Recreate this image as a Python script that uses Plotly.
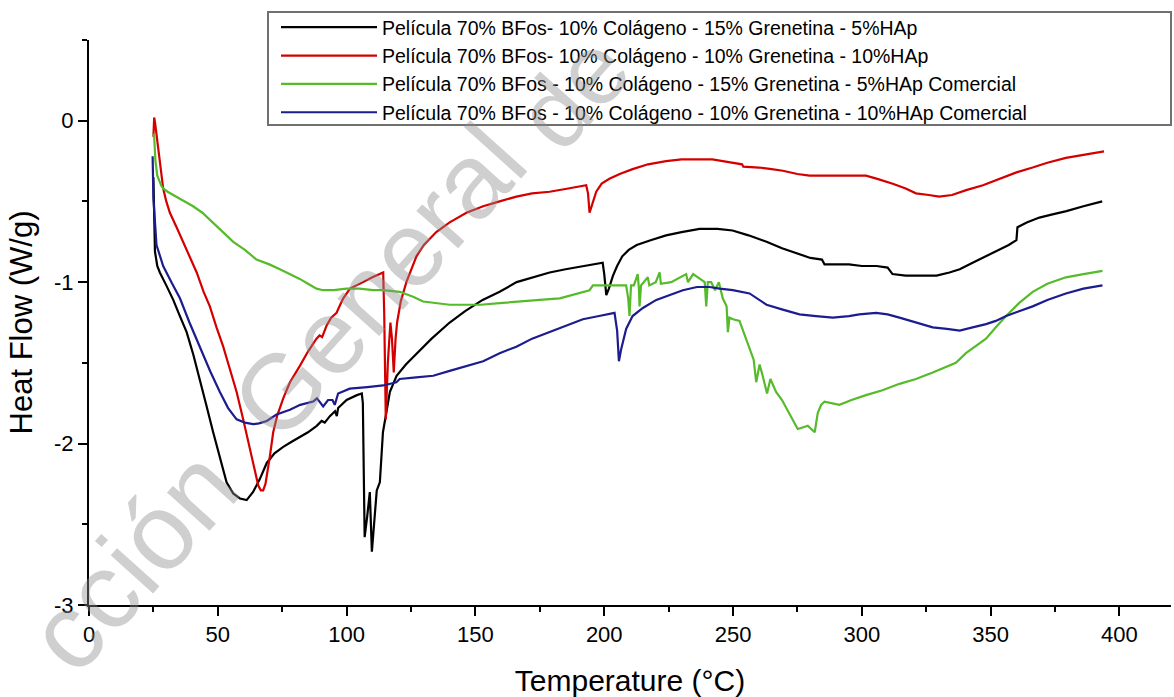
import plotly.graph_objects as go

# ---------------- data ----------------
names = [
    "Película 70% BFos- 10% Colágeno - 15% Grenetina - 5%HAp",
    "Película 70% BFos- 10% Colágeno - 10% Grenetina - 10%HAp",
    "Película 70% BFos - 10% Colágeno - 15% Grenetina - 5%HAp Comercial",
    "Película 70% BFos - 10% Colágeno - 10% Grenetina - 10%HAp Comercial",
]
colors = ["#000000", "#d40000", "#55bb2a", "#1c1c8f"]

t_black = [25.0, 25.3, 25.6, 26.5, 27.5, 30, 32.7, 35, 37.9, 40.5, 43, 45.5, 48.2, 51, 53.4, 56, 58.6, 61.2,
           63.7, 66.3, 69, 72, 75.4, 78.5, 81.8, 85, 88.4, 90.3, 91.5, 93.5, 95.5, 96.2, 96.7, 100, 104, 105.9,
           106.3, 107, 108, 109, 109.8, 110.8, 111.7, 112.9, 114.1, 116.8, 119.4, 123, 127.2, 133, 140, 146,
           152.8, 159.4, 166, 172, 178.8, 185, 191.6, 199.4, 200.0, 200.8, 201.8, 203.4, 205, 207, 209.5, 212.6,
           218, 224, 230, 237, 244, 249.8, 256, 263, 269, 275.8, 280, 284.5, 285.5, 290, 295, 300, 305.7, 310,
           311.9, 317, 323.5, 329, 334, 338, 343, 348, 353.4, 357, 360, 360.4, 364, 368.9, 374, 379.4, 386, 393.3]
hf_black = [-0.35, -0.6, -0.81, -0.90, -0.94, -1.02, -1.11, -1.2, -1.31, -1.45, -1.60, -1.76, -1.93, -2.10, -2.24,
            -2.31, -2.34, -2.35, -2.30, -2.22, -2.12, -2.06, -2.02, -1.99, -1.96, -1.93, -1.89, -1.86, -1.87,
            -1.83, -1.80, -1.83, -1.78, -1.73, -1.70, -1.69, -1.75, -2.58, -2.45, -2.30, -2.67, -2.45, -2.29,
            -2.24, -1.93, -1.68, -1.58, -1.51, -1.44, -1.35, -1.25, -1.18, -1.11, -1.06, -1.0, -0.97, -0.94,
            -0.92, -0.90, -0.88, -0.95, -1.08, -1.04, -0.96, -0.90, -0.84, -0.80, -0.77, -0.74, -0.71, -0.69,
            -0.67, -0.67, -0.68, -0.71, -0.75, -0.79, -0.83, -0.85, -0.86, -0.89, -0.89, -0.89, -0.90, -0.90,
            -0.91, -0.95, -0.96, -0.96, -0.96, -0.94, -0.92, -0.88, -0.84, -0.80, -0.77, -0.74, -0.66, -0.63,
            -0.60, -0.58, -0.56, -0.53, -0.50]

t_red = [25.0, 25.3, 25.7, 26.4, 27.5, 28.8, 30, 31.4, 34, 36.6, 39, 41.8, 44.5, 46.9, 49.5, 52.1, 54.7, 57.3,
         60, 62.5, 64.2, 65.7, 66.7, 67.6, 68.5, 69.4, 70.2, 71.5, 73, 75.4, 78, 81.8, 85, 88.3, 89.5, 90.5,
         92.2, 94, 96.1, 97.5, 98.7, 101.3, 104, 106.4, 110, 114.2, 114.6, 115.2, 116.0, 117.0, 117.6, 118.3,
         119.0, 119.6, 121, 123.2, 127.1, 130, 134.8, 140, 146.5, 153, 159.4, 165.9, 172, 178.8, 186, 193,
         193.7, 194.3, 195.3, 196.9, 199, 202, 206, 211, 217, 224, 230, 237, 242, 246, 250, 253.5, 254, 260,
         265, 269.3, 275, 279.7, 288.7, 295, 301.6, 306, 312, 317, 321, 326, 330, 335, 340.5, 347, 353.4, 360,
         366.3, 372, 379.2, 386, 394]
hf_red = [-0.10, 0.02, -0.02, -0.11, -0.28, -0.42, -0.50, -0.57, -0.66, -0.75, -0.84, -0.94, -1.06, -1.15,
          -1.28, -1.40, -1.54, -1.68, -1.86, -2.04, -2.17, -2.26, -2.29, -2.29, -2.25, -2.17, -2.08, -1.93,
          -1.83, -1.72, -1.62, -1.52, -1.43, -1.35, -1.33, -1.34, -1.27, -1.22, -1.19, -1.14, -1.10, -1.04,
          -1.02, -1.00, -0.97, -0.94, -1.20, -1.85, -1.50, -1.25, -1.35, -1.56, -1.35, -1.25, -1.12, -1.00,
          -0.84, -0.77, -0.69, -0.63, -0.57, -0.53, -0.50, -0.47, -0.45, -0.44, -0.42, -0.40, -0.45, -0.57,
          -0.52, -0.44, -0.39, -0.36, -0.33, -0.30, -0.27, -0.25, -0.24, -0.24, -0.24, -0.25, -0.26, -0.27,
          -0.285, -0.29, -0.30, -0.31, -0.33, -0.34, -0.34, -0.34, -0.34, -0.36, -0.39, -0.42, -0.45, -0.46,
          -0.47, -0.46, -0.43, -0.40, -0.36, -0.32, -0.29, -0.26, -0.23, -0.21, -0.19]

t_green = [25.0, 25.3, 25.8, 26.5, 28.0, 28.8, 30.5, 32.7, 36.5, 40.4, 44, 48.2, 52, 56, 60.5, 65, 70, 74.1, 78,
           81.8, 85, 88.3, 90.9, 95, 99.9, 105, 110.3, 114.2, 120.6, 125.8, 129.7, 135, 140, 146.5, 152, 159.4,
           166, 175, 182.7, 190, 194.3, 195.6, 200, 205, 208.5, 209.3, 209.8, 210.4, 211.5, 213, 213.5, 213.7,
           214.3, 216.9, 217.5, 220, 221.5, 222, 226, 231.8, 232.5, 234.5, 237, 239.0, 239.6, 240.2, 241.5,
           243, 244.5, 246, 247.5, 248.0, 248.6, 250, 252.5, 254.5, 256.4, 258, 259, 260.3, 261.5, 263.2, 264.5,
           266.7, 269, 271.8, 273.5, 275.1, 277, 279, 281.7, 282.9, 284.2, 285.5, 291.3, 296, 301.6, 308, 314.6,
           321, 327.5, 332, 336.5, 340.4, 344, 348.2, 352, 356, 361, 366.3, 372, 379.2, 386, 393.4]
hf_green = [-0.08, -0.10, -0.25, -0.34, -0.40, -0.42, -0.44, -0.46, -0.49, -0.53, -0.57, -0.63, -0.69, -0.75,
            -0.80, -0.86, -0.89, -0.92, -0.95, -0.98, -1.01, -1.04, -1.05, -1.05, -1.04, -1.04, -1.05, -1.05,
            -1.06, -1.09, -1.12, -1.13, -1.14, -1.14, -1.14, -1.13, -1.12, -1.11, -1.10, -1.07, -1.05, -1.02,
            -1.02, -1.02, -1.02, -1.10, -1.21, -1.02, -1.02, -0.95, -1.05, -1.15, -1.02, -0.97, -1.02, -1.00,
            -0.94, -1.01, -1.00, -0.95, -1.00, -0.95, -0.98, -1.00, -1.15, -1.00, -1.00, -1.05, -1.00, -1.10,
            -1.15, -1.31, -1.22, -1.23, -1.24, -1.33, -1.42, -1.48, -1.62, -1.51, -1.58, -1.69, -1.60, -1.68,
            -1.73, -1.81, -1.86, -1.91, -1.90, -1.89, -1.93, -1.81, -1.76, -1.74, -1.76, -1.73, -1.70, -1.67,
            -1.63, -1.60, -1.56, -1.53, -1.50, -1.44, -1.40, -1.35, -1.28, -1.21, -1.13, -1.06, -1.01, -0.97,
            -0.95, -0.93]

t_blue = [24.7, 25.0, 26.2, 28.8, 32, 35.3, 39, 43, 47, 50.8, 54, 57.3, 60.5, 63.7, 66, 69, 72.8, 78, 82, 87,
          88.5, 90.9, 92.8, 94.5, 95.4, 96.7, 101.2, 108, 114.2, 119.3, 120.6, 127, 133.6, 140, 146.5, 153,
          159.4, 165.9, 172, 178.8, 185, 191.7, 198, 204, 205.0, 205.7, 206.5, 208.5, 211, 215, 220.2, 225,
          230.5, 236, 240.9, 244.8, 249.9, 256.4, 260.3, 263, 269.3, 275.8, 282.2, 288.7, 295, 299, 305.5, 310,
          314.6, 321, 327.5, 333, 338, 343, 348.2, 352, 356, 361, 366.3, 372, 379.2, 386, 393.4]
hf_blue = [-0.22, -0.48, -0.77, -0.90, -1.00, -1.10, -1.25, -1.40, -1.55, -1.68, -1.78, -1.85, -1.87, -1.88,
           -1.875, -1.86, -1.82, -1.79, -1.76, -1.74, -1.72, -1.77, -1.73, -1.73, -1.76, -1.69, -1.66, -1.65,
           -1.64, -1.62, -1.60, -1.59, -1.58, -1.55, -1.52, -1.49, -1.44, -1.40, -1.35, -1.31, -1.27, -1.23,
           -1.21, -1.19, -1.30, -1.49, -1.42, -1.29, -1.21, -1.16, -1.11, -1.08, -1.05, -1.03, -1.03, -1.04,
           -1.05, -1.07, -1.11, -1.14, -1.17, -1.20, -1.21, -1.22, -1.21, -1.20, -1.19, -1.20, -1.22, -1.25,
           -1.28, -1.29, -1.30, -1.28, -1.26, -1.24, -1.21, -1.18, -1.15, -1.11, -1.07, -1.04, -1.02]

xs = [t_black, t_red, t_green, t_blue]
ys = [hf_black, hf_red, hf_green, hf_blue]

x_ticks = [0, 50, 100, 150, 200, 250, 300, 350, 400]
y_ticks = [0, -1, -2, -3]

# watermark words of the scanned source (visible part)
wm_words = ["cción", "General", "de"]

FONT = "Liberation Sans, Arial, sans-serif"

# plot-area geometry in pixels (for paper-coordinate conversions of decorations)
L, R, T, B = 89, 1171, 40, 605
def px(xp):
    return (xp - L) / (R - L)
def py(yp):
    return (B - yp) / (B - T)

fig = go.Figure()
for x, y, n, c in zip(xs, ys, names, colors):
    fig.add_trace(go.Scatter(x=x, y=y, mode="lines", name=n,
                             line=dict(color=c, width=2.2)))

fig.update_layout(
    width=1174, height=697,
    margin=dict(l=L, r=1174 - R, t=T, b=697 - B),
    paper_bgcolor="white", plot_bgcolor="white",
    showlegend=True,
    legend=dict(
        x=px(276), y=py(8), xanchor="left", yanchor="top",
        borderwidth=0, bgcolor="rgba(255,255,255,0)",
        font=dict(family=FONT, size=19.5, color="black"),
        itemwidth=96, tracegroupgap=0,
    ),
    xaxis=dict(
        range=[0, 420], tickvals=x_ticks, ticktext=[str(v) for v in x_ticks],
        showgrid=False, zeroline=False, showline=True, linecolor="black", linewidth=2,
        ticks="outside", ticklen=9, tickwidth=2, tickcolor="black",
        minor=dict(dtick=25, tick0=0, ticks="outside", ticklen=5, tickwidth=2, tickcolor="black", showgrid=False),
        tickfont=dict(family=FONT, size=22, color="black"),
        title=dict(text="Temperature (°C)", font=dict(family=FONT, size=30, color="black"), standoff=24),
    ),
    yaxis=dict(
        range=[-3, 0.5], tickvals=y_ticks, ticktext=[str(v) for v in y_ticks],
        showgrid=False, zeroline=False, showline=True, linecolor="black", linewidth=2,
        ticks="outside", ticklen=9, tickwidth=2, tickcolor="black",
        minor=dict(dtick=0.5, tick0=0, ticks="outside", ticklen=5, tickwidth=2, tickcolor="black", showgrid=False),
        tickfont=dict(family=FONT, size=22, color="black"),
        title=dict(text="Heat Flow (W/g)", font=dict(family=FONT, size=31, color="black"), standoff=12),
    ),
)

# legend frame
fig.add_shape(type="rect", xref="paper", yref="paper",
              x0=px(268), x1=px(1171), y0=py(125), y1=py(12),
              line=dict(color="#707070", width=2), fillcolor="rgba(0,0,0,0)", layer="above")

# watermark, one annotation per word so that none is clipped
wm_pos = [(132, 560, 108), (378, 282, 106), (572, 92, 100)]
for w, (cx, cy, fs) in zip(wm_words, wm_pos):
    fig.add_annotation(
        text=w, xref="paper", yref="paper",
        x=px(cx), y=py(cy), xanchor="center", yanchor="middle",
        showarrow=False, textangle=-48,
        font=dict(family=FONT, size=fs, color="rgba(140,140,140,0.42)"),
    )

fig.write_html("out.html")
